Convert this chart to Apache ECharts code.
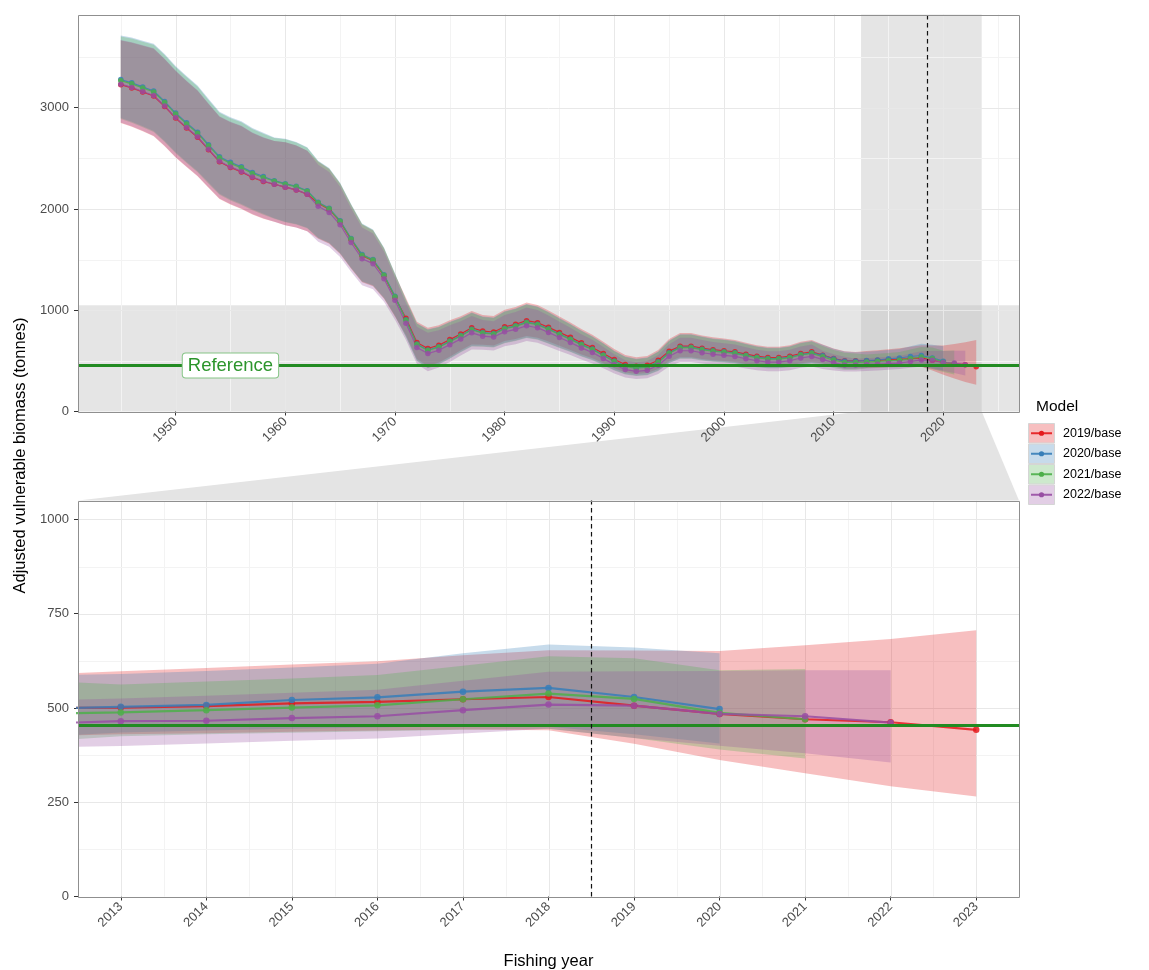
<!DOCTYPE html>
<html><head><meta charset="utf-8">
<script src="https://cdn.jsdelivr.net/npm/echarts@6/dist/echarts.min.js"></script>
<style>html,body{margin:0;padding:0;background:#fff}#c{width:1149px;height:970px}</style>
</head><body><div id="c"></div>
<script>
// ---------------- data ----------------
const firstYear = 1945;
const modelNames = ['2019/base', '2020/base', '2021/base', '2022/base'];
const modelColors = ['#E41A1C', '#377EB8', '#4DAF4A', '#984EA3'];

const mid2019 = [3227,3195,3155,3115,3012,2897,2800,2708,2585,2466,
 2410,2366,2311,2271,2244,2215,2188,2145,2056,1996,
 1874,1698,1539,1490,1341,1129,921,682,622,655,
 710,765,827,794,785,837,861,897,877,831,
 781,732,678,632,573,513,464,447,457,506,
 596,645,645,625,610,600,589,566,546,533,
 533,546,573,589,556,523,500,500,501,505,
 512,516,523,529,506,484,470,462,442];
const hi2019 = [3663,3642,3612,3582,3479,3361,3262,3168,3037,2910,
 2856,2816,2750,2702,2670,2658,2626,2574,2467,2395,
 2249,2038,1847,1788,1609,1355,1124,887,827,852,
 902,941,992,953,942,1004,1033,1076,1052,997,
 937,878,814,758,688,616,557,536,548,607,
 715,774,774,750,732,720,707,679,655,640,
 640,655,688,707,662,622,595,588,597,606,
 615,624,640,653,652,651,666,683,706];
const lo2019 = [2849,2812,2767,2719,2620,2509,2414,2323,2210,2099,
 2044,1999,1946,1903,1874,1838,1816,1780,1706,1657,
 1555,1409,1277,1237,1113,937,755,518,448,485,
 540,604,662,659,652,695,715,745,728,690,
 648,608,563,525,476,426,385,371,379,420,
 495,535,535,519,506,498,489,470,453,442,
 442,453,476,489,473,445,425,425,430,433,
 437,440,443,441,405,362,327,292,265];

const mid2020 = [3277,3245,3205,3165,3062,2947,2850,2758,2635,2516,
 2460,2416,2361,2321,2279,2250,2223,2180,2066,2006,
 1884,1708,1549,1500,1351,1139,906,667,607,640,
 695,750,812,779,770,822,846,882,862,816,
 766,717,663,617,558,498,449,432,442,491,
 581,635,635,615,600,590,579,556,536,523,
 523,536,563,579,554,521,498,498,503,508,
 521,528,543,553,529,497];
const hi2020 = [3713,3692,3662,3632,3529,3411,3312,3218,3087,2960,
 2906,2866,2800,2752,2705,2693,2661,2609,2477,2405,
 2259,2048,1857,1798,1619,1365,1109,872,812,837,
 887,926,977,938,927,989,1018,1061,1037,982,
 922,863,799,743,673,601,542,521,533,592,
 700,764,764,740,722,710,697,669,645,630,
 630,645,678,697,660,620,593,586,590,598,
 607,617,645,668,660,645];
const lo2020 = [2899,2862,2817,2769,2670,2559,2464,2373,2260,2149,
 2094,2049,1996,1953,1909,1873,1851,1815,1716,1667,
 1565,1419,1287,1247,1123,947,740,503,433,470,
 525,589,647,644,637,680,700,730,713,675,
 633,593,548,510,461,411,370,356,364,405,
 480,525,525,509,496,488,479,460,443,432,
 432,443,466,479,471,443,423,423,435,440,
 445,448,452,450,430,406];

const mid2021 = [3267,3235,3195,3155,3052,2937,2840,2748,2625,2506,
 2450,2406,2351,2311,2274,2245,2218,2175,2061,2001,
 1879,1703,1544,1495,1346,1134,901,662,602,635,
 690,745,807,774,765,817,841,877,857,811,
 761,712,658,612,553,493,444,427,437,486,
 576,630,630,610,595,585,574,551,531,518,
 518,531,558,574,541,508,485,485,488,494,
 501,507,523,538,524,487,470];
const hi2021 = [3703,3682,3652,3622,3519,3401,3302,3208,3077,2950,
 2896,2856,2790,2742,2700,2688,2656,2604,2472,2400,
 2254,2043,1852,1793,1614,1360,1104,867,807,832,
 882,921,972,933,922,984,1013,1056,1032,977,
 917,858,794,738,668,596,537,516,528,587,
 695,759,759,735,717,705,692,664,640,625,
 625,640,673,692,647,607,580,573,562,570,
 578,587,612,637,632,600,603];
const lo2021 = [2889,2852,2807,2759,2660,2549,2454,2363,2250,2139,
 2084,2039,1986,1943,1904,1868,1846,1810,1711,1662,
 1560,1414,1282,1242,1118,942,735,498,428,465,
 520,584,642,639,632,675,695,725,708,670,
 628,588,543,505,456,406,365,351,359,400,
 480,520,520,504,491,483,474,455,438,427,
 427,438,461,474,458,430,410,410,425,430,
 434,438,442,445,420,390,366];

const mid2022 = [3232,3200,3160,3120,3017,2902,2805,2713,2590,2471,
 2415,2371,2316,2276,2244,2215,2188,2145,2026,1966,
 1844,1668,1509,1460,1311,1099,871,632,572,605,
 660,715,777,744,735,787,811,847,827,781,
 731,682,628,582,523,463,414,397,407,456,
 546,600,600,580,565,555,544,521,501,488,
 488,501,528,544,514,481,458,458,465,466,
 473,478,494,509,506,484,478,461];
const hi2022 = [3668,3647,3617,3587,3484,3366,3267,3173,3042,2915,
 2861,2821,2755,2707,2670,2658,2626,2574,2437,2365,
 2219,2008,1817,1758,1579,1325,1074,837,777,802,
 852,891,942,903,892,954,983,1026,1002,947,
 887,828,764,708,638,566,507,486,498,557,
 665,729,729,705,687,675,662,634,610,595,
 595,610,643,662,600,565,540,520,525,532,
 540,548,572,596,597,598,600,600];
const lo2022 = [2854,2817,2772,2724,2625,2514,2419,2328,2215,2104,
 2049,2004,1951,1908,1874,1838,1816,1780,1676,1627,
 1525,1379,1247,1207,1083,907,705,468,398,435,
 490,554,612,609,602,645,665,695,678,640,
 598,558,513,475,426,376,335,321,329,370,
 445,490,490,474,461,453,444,425,408,397,
 397,408,431,444,420,405,395,395,399,406,
 413,419,432,445,420,400,380,355];

const referenceValue = 455;
const referenceLabel = 'Reference';
const referenceLabelYear = 1955;
const dashedYear = 2018.5;

// axis ranges & ticks
const topXMin = 1941.1, topXMax = 2026.9, topYMin = 0, topYMax = 3920;
const botXMin = 2012.5, botXMax = 2023.5, botYMin = 0, botYMax = 1050;
const topXTicks = [1950,1960,1970,1980,1990,2000,2010,2020];
const topXMinor = [1945,1955,1965,1975,1985,1995,2005,2015,2025];
const topYTicks = [0,1000,2000,3000];
const topYMinor = [500,1500,2500,3500];
const botXTicks = [2013,2014,2015,2016,2017,2018,2019,2020,2021,2022,2023];
const botXMinor = [2012.5,2013.5,2014.5,2015.5,2016.5,2017.5,2018.5,2019.5,2020.5,2021.5,2022.5,2023.5];
const botYTicks = [0,250,500,750,1000];
const botYMinor = [125,375,625,875];

const yTitle = 'Adjusted vulnerable biomass (tonnes)';
const xTitle = 'Fishing year';
const legendTitle = 'Model';

// --------------- chart ----------------
const models = [
  {mid: mid2019, hi: hi2019, lo: lo2019},
  {mid: mid2020, hi: hi2020, lo: lo2020},
  {mid: mid2021, hi: hi2021, lo: lo2021},
  {mid: mid2022, hi: hi2022, lo: lo2022}
];
const FONT = '"Liberation Sans", Arial, sans-serif';
const ribbonOpacity = 0.28;

function pairs(arr, from) {
  const out = [];
  for (let i = from; i < arr.length; i++) out.push([firstYear + i, arr[i]]);
  return out;
}
function triples(lo, hi, from) {
  const out = [];
  for (let i = from; i < hi.length; i++) out.push([firstYear + i, lo[i], hi[i]]);
  return out;
}

const panels = [
  {g: 0, from: 0, lw: 1.2, sym: 5.5, xMin: topXMin, xMax: topXMax, yMin: topYMin, yMax: topYMax,
   xTicks: topXTicks, xMinor: topXMinor, yTicks: topYTicks, yMinor: topYMinor},
  {g: 1, from: 2011 - firstYear, lw: 2.2, sym: 6.5, xMin: botXMin, xMax: botXMax, yMin: botYMin, yMax: botYMax,
   xTicks: botXTicks, xMinor: botXMinor, yTicks: botYTicks, yMinor: botYMinor}
];

function vLineSeries(g, values, y0, y1, color, width, z, dash) {
  return {
    type: 'custom', xAxisIndex: g, yAxisIndex: g, silent: true, z: z,
    encode: {x: 0, y: 1},
    data: values.map(v => [v, y0]),
    renderItem: function (params, api) {
      const v = api.value(0);
      const a = api.coord([v, y0]), b = api.coord([v, y1]);
      const x = Math.round(a[0]) + 0.5;
      return {type: 'line', shape: {x1: x, y1: a[1], x2: x, y2: b[1]},
              style: {stroke: color, lineWidth: width, lineDash: dash || null}};
    }
  };
}
function hLineSeries(g, values, x0, x1, color, width, z) {
  return {
    type: 'custom', xAxisIndex: g, yAxisIndex: g, silent: true, z: z,
    encode: {x: 0, y: 1},
    data: values.map(v => [x0, v]),
    renderItem: function (params, api) {
      const v = api.value(1);
      const a = api.coord([x0, v]), b = api.coord([x1, v]);
      const y = width % 2 === 1 ? Math.round(a[1]) + 0.5 : a[1];
      return {type: 'line', shape: {x1: a[0], y1: y, x2: b[0], y2: y},
              style: {stroke: color, lineWidth: width}};
    }
  };
}
function ribbonSeries(g, data, color) {
  return {
    type: 'custom', xAxisIndex: g, yAxisIndex: g, silent: true, z: 2,
    encode: {x: 0, y: [1, 2]},
    data: data,
    renderItem: function (params, api) {
      if (params.dataIndexInside !== 0) return null;
      const n = params.dataInsideLength;
      const up = [], dn = [];
      for (let i = 0; i < n; i++) {
        const x = api.value(0, i);
        up.push(api.coord([x, api.value(2, i)]));
        dn.push(api.coord([x, api.value(1, i)]));
      }
      const cs = params.coordSys;
      return {type: 'polygon', shape: {points: up.concat(dn.reverse())},
              style: {fill: color, opacity: ribbonOpacity},
              clipPath: {type: 'rect', shape: {x: cs.x, y: cs.y, width: cs.width, height: cs.height}}};
    }
  };
}

const series = [];
// zoom indicator bands in top panel
series.push({
  type: 'custom', xAxisIndex: 0, yAxisIndex: 0, silent: true, z: 0,
  encode: {x: [0, 2], y: [1, 3]},
  data: [[topXMin, botYMin, topXMax, botYMax], [botXMin, topYMin, botXMax, topYMax]],
  renderItem: function (params, api) {
    const a = api.coord([api.value(0), api.value(3)]);
    const b = api.coord([api.value(2), api.value(1)]);
    return {type: 'rect', shape: {x: a[0], y: a[1], width: b[0] - a[0], height: b[1] - a[1]},
            style: {fill: 'rgba(190,190,190,0.4)'}};
  }
});

panels.forEach(p => {
  // grid lines
  series.push(vLineSeries(p.g, p.xMinor, p.yMin, p.yMax, '#f3f3f3', 1, 1));
  series.push(vLineSeries(p.g, p.xTicks, p.yMin, p.yMax, '#e8e8e8', 1, 1));
  series.push(hLineSeries(p.g, p.yMinor, p.xMin, p.xMax, '#f3f3f3', 1, 1));
  series.push(hLineSeries(p.g, p.yTicks, p.xMin, p.xMax, '#e8e8e8', 1, 1));
  // ribbons
  models.forEach((m, k) => {
    series.push(ribbonSeries(p.g, triples(m.lo, m.hi, p.from), modelColors[k]));
  });
  // lines with points
  models.forEach((m, k) => {
    series.push({type: 'line', name: modelNames[k], xAxisIndex: p.g, yAxisIndex: p.g, z: 3,
      symbol: 'circle', symbolSize: p.sym, showSymbol: true, silent: true,
      lineStyle: {color: modelColors[k], width: p.lw, opacity: 0.85},
      itemStyle: {color: modelColors[k], opacity: 0.85, borderWidth: 0},
      data: pairs(m.mid, p.from), animation: false});
  });
  // reference line
  series.push(hLineSeries(p.g, [referenceValue], p.xMin, p.xMax, '#228B22', 3, 5));
  // dashed line
  series.push(vLineSeries(p.g, [dashedYear], p.yMin, p.yMax, '#111', 1.2, 7, [4.5, 3.5]));
});

// reference label
series.push({
  type: 'custom', xAxisIndex: 0, yAxisIndex: 0, silent: true, z: 6,
  encode: {x: 0, y: 1},
  data: [[referenceLabelYear, referenceValue]],
  renderItem: function (params, api) {
    const c = api.coord([api.value(0), api.value(1)]);
    return {type: 'text', x: c[0], y: c[1],
      style: {text: referenceLabel, fill: '#2c952c', font: '18.5px ' + FONT,
              align: 'center', verticalAlign: 'middle', backgroundColor: '#ffffff',
              borderColor: '#86c486', borderWidth: 1, borderRadius: 3, padding: [3, 5, 2, 5]}};
  }
});

const plainNum = v => String(v);
function xAxisOpt(p) {
  return {type: 'value', gridIndex: p.g, min: p.xMin, max: p.xMax,
    axisLine: {show: false}, splitLine: {show: false},
    axisTick: {show: true, length: 4, lineStyle: {color: '#333', width: 1}, customValues: p.xTicks},
    axisLabel: {customValues: p.xTicks, formatter: plainNum, rotate: 45, margin: 8,
                color: '#4d4d4d', fontSize: 13, fontFamily: FONT}};
}
function yAxisOpt(p) {
  return {type: 'value', gridIndex: p.g, min: p.yMin, max: p.yMax,
    axisLine: {show: false}, splitLine: {show: false},
    axisTick: {show: true, length: 4, lineStyle: {color: '#333', width: 1}, customValues: p.yTicks},
    axisLabel: {customValues: p.yTicks, formatter: plainNum, margin: 9,
                color: '#4d4d4d', fontSize: 13, fontFamily: FONT}};
}

const chart = echarts.init(document.getElementById('c'), null, {renderer: 'canvas'});
chart.setOption({
  animation: false,
  backgroundColor: '#ffffff',
  grid: [
    {left: 78, top: 14.5, width: 941, height: 397},
    {left: 78, top: 500.5, width: 941, height: 396}
  ],
  xAxis: panels.map(xAxisOpt),
  yAxis: panels.map(yAxisOpt),
  series: series
});

// ---------- decorations positioned from the axes ----------
const P0 = v => chart.convertToPixel({gridIndex: 0}, v);
const P1 = v => chart.convertToPixel({gridIndex: 1}, v);
const tl0 = P0([topXMin, topYMax]), br0 = P0([topXMax, topYMin]);
const tl1 = P1([botXMin, botYMax]), br1 = P1([botXMax, botYMin]);
const zA = P0([botXMin, topYMin]), zB = P0([botXMax, topYMin]);

const graphics = [];
graphics.push({type: 'polygon', z: -5, silent: true,
  shape: {points: [[zA[0], zA[1]], [zB[0], zB[1]], [br1[0], tl1[1]], [tl1[0], tl1[1]]]},
  style: {fill: '#e4e4e4'}});
[[tl0, br0], [tl1, br1]].forEach(([a, b]) => {
  graphics.push({type: 'rect', z: 100, silent: true,
    shape: {x: Math.round(a[0]) + 0.5, y: Math.round(a[1]) + 0.5,
            width: Math.round(b[0] - a[0]), height: Math.round(b[1] - a[1])},
    style: {fill: null, stroke: '#8f8f8f', lineWidth: 1}});
});
graphics.push({type: 'text', z: 100, x: 20, y: (tl0[1] + br1[1]) / 2, rotation: Math.PI / 2,
  style: {text: yTitle, font: '16.5px ' + FONT, fill: '#000', align: 'center', verticalAlign: 'middle'}});
graphics.push({type: 'text', z: 100, x: (tl1[0] + br1[0]) / 2, y: 961,
  style: {text: xTitle, font: '16.5px ' + FONT, fill: '#000', align: 'center', verticalAlign: 'middle'}});

// legend
const lgX = 1028, lgY = 423, keyW = 27, keyH = 20.5;
graphics.push({type: 'text', z: 100, x: 1036, y: 407,
  style: {text: legendTitle, font: '15.5px ' + FONT, fill: '#000', align: 'left', verticalAlign: 'middle'}});
modelNames.forEach((nm, k) => {
  const y = lgY + k * keyH;
  graphics.push({type: 'rect', z: 100, silent: true,
    shape: {x: lgX + 0.5, y: y + 0.5, width: keyW - 1, height: keyH - 1},
    style: {fill: echarts.color.modifyAlpha(modelColors[k], ribbonOpacity), stroke: '#d5d5d5', lineWidth: 1}});
  graphics.push({type: 'line', z: 101, silent: true,
    shape: {x1: lgX + 3, y1: y + keyH / 2, x2: lgX + keyW - 3, y2: y + keyH / 2},
    style: {stroke: modelColors[k], lineWidth: 2, opacity: 0.9}});
  graphics.push({type: 'circle', z: 102, silent: true,
    shape: {cx: lgX + keyW / 2, cy: y + keyH / 2, r: 2.6},
    style: {fill: modelColors[k]}});
  graphics.push({type: 'text', z: 100, x: 1063, y: y + keyH / 2,
    style: {text: nm, font: '12.5px ' + FONT, fill: '#000', align: 'left', verticalAlign: 'middle'}});
});
chart.setOption({graphic: graphics});
</script>
</body></html>
